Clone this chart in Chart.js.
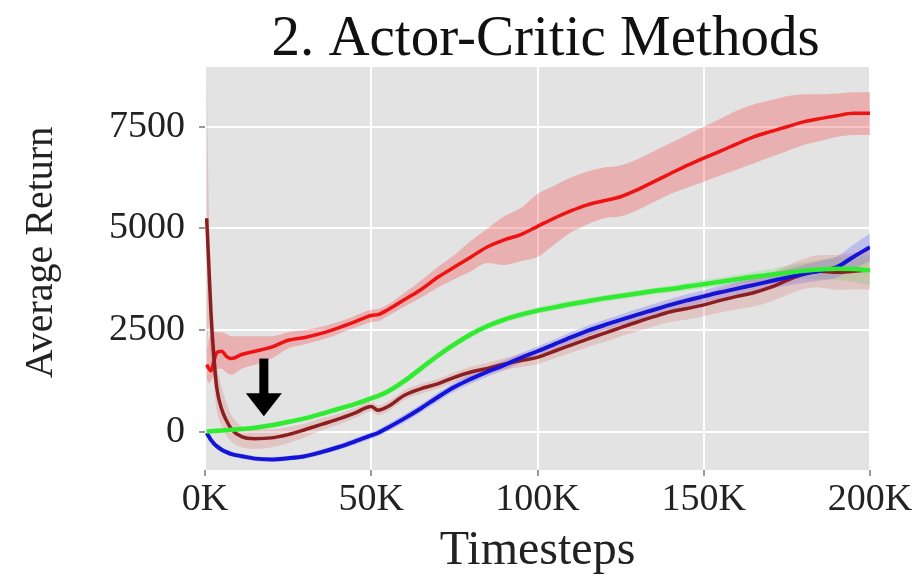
<!DOCTYPE html>
<html><head><meta charset="utf-8">
<script src="https://cdn.jsdelivr.net/npm/chart.js@4.4.0/dist/chart.umd.min.js"></script>
<style>html,body{margin:0;padding:0;background:#fff;}</style>
</head><body>
<canvas id="c" width="923" height="581"></canvas>
<script>
// Timesteps in thousands
const steps = [0.5,1.2,1.8,2.7,3.6, 5,6.5,8,11,15, 20,25,30,35,40, 45,50,52,55,60, 65,70,75,80,85, 90,95,100,105,110, 115,120,125,130,135, 140,145,150,155,160, 165,170,175,180,185, 190,195,200];
const xTicks = [0,50,100,150,200];
const yTicks = [0,2500,5000,7500];
const titleText = '2. Actor-Critic Methods';
const xLabel = 'Timesteps';
const yLabel = 'Average Return';

const redMean = [1650,1550,1500,1750,1950, 1980,1850,1800,1900,1980, 2080,2250,2320,2420,2550, 2700,2860,2880,3000,3250, 3500,3800,4050,4300,4550, 4720,4850,5050,5250,5430, 5580,5680,5780,5950,6150, 6350,6550,6730,6900,7080, 7250,7380,7500,7620,7700, 7770,7830,7830];
const redHi = [2000,2300,2400,2450,2450, 2450,2400,2350,2350,2350, 2350,2450,2500,2580,2700, 2850,3000,3020,3130,3420, 3720,4050,4350,4700,5000, 5300,5500,5850,6050,6250, 6400,6500,6550,6700,6900, 7100,7300,7500,7700,7900, 8050,8150,8250,8300,8300, 8320,8350,8350];
const redLo = [1300,1200,1250,1400,1550, 1550,1450,1400,1550,1650, 1800,2050,2150,2260,2400, 2550,2700,2720,2850,3080, 3300,3550,3750,3950,4150, 4100,4200,4300,4600,4900, 5100,5250,5300,5450,5650, 5850,6000,6150,6300,6450, 6600,6750,6900,7050,7150, 7250,7300,7300];

const darkMean = [5250,4000,2900,1800,1050, 560,270,60,-120,-170, -150,-70,50,180,310, 460,620,530,620,900, 1060,1180,1340,1470,1560, 1660,1750,1830,1980,2130, 2280,2420,2560,2700,2830, 2950,3030,3120,3230,3330, 3420,3550,3720,3880,3950, 3920,3950,3980];
const darkHi = [8800,5500,4000,2600,1700, 1100,700,400,150,80, 60,120,200,330,440, 580,740,650,740,1020, 1180,1300,1460,1600,1700, 1810,1910,2000,2160,2320, 2480,2630,2780,2930,3070, 3200,3300,3400,3530,3650, 3760,3900,4080,4250,4350, 4350,4400,4450];
const darkLo = [1800,2600,1900,1100,500, 150,-100,-250,-380,-420, -380,-280,-140,30,170, 330,500,410,500,780, 940,1060,1220,1340,1420, 1510,1590,1660,1800,1940, 2080,2210,2340,2470,2590, 2700,2760,2840,2930,3010, 3080,3200,3360,3510,3550, 3490,3500,3500];

const blueMean = [-30,-120,-200,-290,-360, -440,-500,-550,-600,-660, -680,-650,-600,-500,-380, -240,-90,-30,100,330, 580,850,1100,1300,1480, 1640,1820,1980,2150,2320, 2480,2620,2750,2880,3000, 3120,3230,3330,3430,3520, 3610,3700,3790,3880,3960, 4050,4300,4540];
const blueSpread = [40,50,60,60,60, 60,60,60,60,60, 60,60,60,70,70, 80,80,80,90,100, 100,110,110,120,120, 120,120,120,120,130, 130,130,130,140,140, 150,150,150,160,170, 180,190,200,220,240, 260,300,340];

const greenMean = [0,10,15,20,25, 30,40,50,70,100, 160,240,330,440,560, 680,820,880,990,1250, 1560,1870,2150,2400,2600, 2760,2880,2980,3060,3140, 3210,3280,3340,3400,3460, 3510,3570,3630,3690,3750, 3810,3860,3910,3960,3990, 4010,4000,3970];
const greenSpread = [50,50,50,50,50, 50,50,50,50,50, 60,60,60,60,60, 60,70,70,70,80, 80,80,80,80,80, 80,80,80,80,80, 80,80,80,80,80, 90,90,100,100,110, 120,140,170,200,240, 280,320,370];

// Arrow annotation (data coordinates: K steps, return)
const arrowAt = {x: 17.7, from: 1800, head: 950, to: 380};

const pts = arr => arr.map((v,i)=>({x: steps[i]*1000, y: v}));
const SERIF = "'Liberation Serif','DejaVu Serif',serif";

const datasets = [];
function band(hi, lo, color){
  datasets.push({data: pts(hi), fill: '+1', backgroundColor: color, borderWidth: 0, pointRadius: 0, order: 10, cubicInterpolationMode:'monotone'});
  datasets.push({data: pts(lo), fill: false, borderWidth: 0, pointRadius: 0, order: 10, cubicInterpolationMode:'monotone'});
}
band(redHi, redLo, 'rgba(245,60,60,0.30)');
band(darkHi, darkLo, 'rgba(215,90,90,0.22)');
band(blueMean.map((v,i)=>v+blueSpread[i]), blueMean.map((v,i)=>v-blueSpread[i]), 'rgba(90,90,255,0.28)');
band(greenMean.map((v,i)=>v+greenSpread[i]), greenMean.map((v,i)=>v-greenSpread[i]), 'rgba(90,220,90,0.25)');
function line(arr, color, w, order){
  datasets.push({data: pts(arr), borderColor: color, borderWidth: w, pointRadius: 0, fill: false, order, cubicInterpolationMode:'monotone'});
}
line(redMean, '#ee1212', 3.5, 4);
line(darkMean, '#8b1e1e', 3.5, 3);
line(blueMean, '#1414d8', 4, 2);
line(greenMean, '#30ec30', 4.5, 1);

const bgPlugin = {id:'bg', beforeDraw(chart){
  const {ctx, chartArea:a} = chart;
  ctx.save(); ctx.fillStyle = '#e3e3e3'; ctx.fillRect(a.left, a.top, a.right-a.left, a.bottom-a.top); ctx.restore();
}};
const textPlugin = {id:'texts', afterDraw(chart){
  const {ctx, chartArea:a} = chart;
  ctx.save();
  ctx.fillStyle = '#111'; ctx.textAlign = 'center'; ctx.textBaseline = 'alphabetic';
  ctx.font = "57px " + SERIF;
  ctx.fillText(titleText, (a.left + a.right)/2 + 8, 55);
  ctx.fillStyle = '#222';
  ctx.font = "40px " + SERIF;
  ctx.translate(52, (a.top + a.bottom)/2 - 16);
  ctx.rotate(-Math.PI/2);
  ctx.fillText(yLabel, 0, 0);
  ctx.restore();
}};
const arrowPlugin = {id:'arrow', afterDatasetsDraw(chart){
  const {ctx, scales:{x, y}} = chart;
  const cx = x.getPixelForValue(arrowAt.x*1000);
  const yTop = y.getPixelForValue(arrowAt.from);
  const yHead = y.getPixelForValue(arrowAt.head);
  const yTip = y.getPixelForValue(arrowAt.to);
  ctx.save(); ctx.fillStyle = '#000';
  ctx.fillRect(cx-4.5, yTop, 9, yHead-yTop+1);
  ctx.beginPath(); ctx.moveTo(cx-18, yHead); ctx.lineTo(cx+18, yHead); ctx.lineTo(cx, yTip); ctx.closePath(); ctx.fill();
  ctx.restore();
}};

new Chart(document.getElementById('c'), {
  type: 'line',
  data: {datasets},
  plugins: [bgPlugin, arrowPlugin, textPlugin],
  options: {
    responsive: false, animation: false, devicePixelRatio: 1,
    layout: {padding: {left: 0, right: 53, top: 67, bottom: 0}},
    plugins: {legend: {display: false}, tooltip: {enabled: false}, title: {display: false}},
    scales: {
      x: {type: 'linear', min: 0, max: 200000,
        afterBuildTicks: s => { s.ticks = xTicks.map(v => ({value: v*1000})); },
        ticks: {callback: v => (v/1000)+'K', color: '#222', font: {family: SERIF, size: 38}, padding: 1, maxRotation: 0, autoSkip: false},
        grid: {color: '#ffffff', lineWidth: 2, drawTicks: true, tickLength: 6, tickColor: '#999'},
        border: {display: false},
        title: {display: true, text: xLabel, color: '#222', font: {family: SERIF, size: 48}, padding: {top: 0, bottom: 1}},
        afterFit: s => { s.height = 111; }
      },
      y: {min: -940, max: 8970,
        afterBuildTicks: s => { s.ticks = yTicks.map(v => ({value: v})); },
        ticks: {callback: v => String(v), color: '#222', font: {family: SERIF, size: 38}, padding: 14, autoSkip: false},
        grid: {color: '#ffffff', lineWidth: 2, drawTicks: true, tickLength: 6, tickColor: '#999'},
        border: {display: false},
        afterFit: s => { s.width = 205; }
      }
    }
  }
});
</script>
</body></html>
